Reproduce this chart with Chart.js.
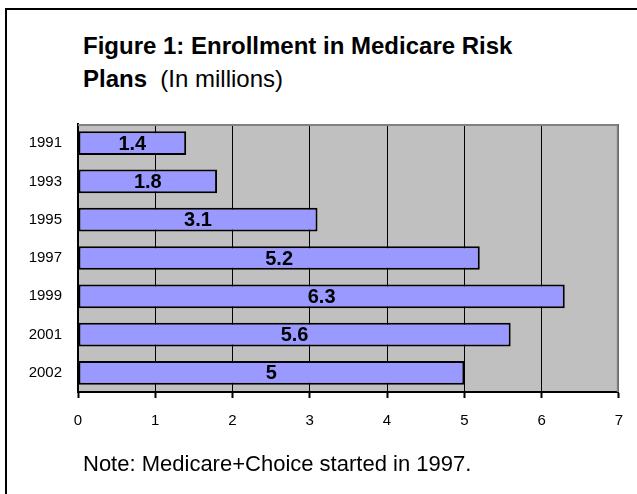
<!DOCTYPE html>
<html>
<head>
<meta charset="utf-8">
<script src="https://cdn.jsdelivr.net/npm/chart.js@4/dist/chart.umd.min.js"></script>
<style>
  html, body { margin: 0; padding: 0; background: #fff; }
  #wrap { position: relative; width: 637px; height: 494px; overflow: hidden; font-family: "Liberation Sans", Arial, sans-serif; }
  #frame { position: absolute; left: 5px; top: 8px; width: 660px; height: 520px; border: 2px solid #000; box-sizing: border-box; }
  #title { position: absolute; left: 83px; top: 29px; font-size: 24px; line-height: 33px; color: #000; white-space: nowrap; }
  #title b { font-weight: bold; }
  #note { position: absolute; left: 83px; top: 451px; font-size: 22px; line-height: 25px; color: #000; white-space: nowrap; }
  canvas { position: absolute; left: 0; top: 0; }
</style>
</head>
<body>
<div id="wrap">
  <div id="frame"></div>
  <div id="title"><b>Figure 1: Enrollment in Medicare Risk</b><br><b>Plans</b>&nbsp;&nbsp;(In millions)</div>
  <canvas id="chart" width="637" height="494"></canvas>
  <div id="note">Note: Medicare+Choice started in 1997.</div>
</div>
<script>
/* ============================================================
   DATOS
============================================================ */
const years = ["1991", "1993", "1995", "1997", "1999", "2001", "2002"];
const enrollment = [1.4, 1.8, 3.1, 5.2, 6.3, 5.6, 5];
const xTicks = [0, 1, 2, 3, 4, 5, 6, 7];

/* fondo gris del area de trazado */
const plotBg = {
    id: "plotBg",
    beforeDraw(chart) {
        const a = chart.chartArea;
        const ctx = chart.ctx;
        ctx.save();
        ctx.fillStyle = "#C0C0C0";
        ctx.fillRect(a.left, a.top, a.right - a.left, a.bottom - a.top);
        ctx.restore();
    },
    afterDraw(chart) {
        const a = chart.chartArea;
        const ctx = chart.ctx;
        ctx.save();
        ctx.strokeStyle = "#808080";
        ctx.lineWidth = 2;
        ctx.beginPath();
        ctx.moveTo(a.left, a.top + 1);
        ctx.lineTo(a.right - 1, a.top + 1);
        ctx.lineTo(a.right - 1, a.bottom);
        ctx.stroke();
        ctx.restore();
    }
};

/* etiquetas de valor en el centro de cada barra */
const barLabels = {
    id: "barLabels",
    afterDatasetsDraw(chart) {
        const ctx = chart.ctx;
        const meta = chart.getDatasetMeta(0);
        ctx.save();
        ctx.font = "bold 20px 'Liberation Sans', Arial, sans-serif";
        ctx.fillStyle = "#000";
        ctx.textAlign = "center";
        ctx.textBaseline = "middle";
        meta.data.forEach((bar, i) => {
            const cx = (bar.base + bar.x) / 2;
            ctx.fillText(String(enrollment[i]), cx, bar.y + 1);
        });
        ctx.restore();
    }
};

new Chart(document.getElementById("chart"), {
    type: "bar",
    data: {
        labels: years,
        datasets: [{
            data: enrollment,
            backgroundColor: "#9999FF",
            borderColor: "#000",
            borderWidth: 2,
            borderSkipped: false,
            categoryPercentage: 1,
            barPercentage: 0.62
        }]
    },
    options: {
        indexAxis: "y",
        responsive: false,
        animation: false,
        layout: { padding: { left: 0, top: 124, right: 18, bottom: 0 } },
        plugins: { legend: { display: false }, tooltip: { enabled: false } },
        scales: {
            x: {
                min: 0,
                max: 7,
                afterBuildTicks(scale) { scale.ticks = xTicks.map(v => ({ value: v })); },
                afterFit(scale) { scale.height = 102; },
                grid: {
                    color: "#000",
                    lineWidth: 1,
                    drawTicks: true,
                    tickLength: 6,
                    tickColor: "#000",
                    tickWidth: 2
                },
                border: { color: "#000", width: 2 },
                ticks: {
                    color: "#000",
                    padding: 14,
                    font: { family: "'Liberation Sans', Arial, sans-serif", size: 15 }
                }
            },
            y: {
                afterFit(scale) { scale.width = 78; },
                grid: { display: false, drawTicks: false },
                border: { color: "#000", width: 2 },
                ticks: {
                    color: "#000",
                    padding: 16,
                    font: { family: "'Liberation Sans', Arial, sans-serif", size: 15 }
                }
            }
        }
    },
    plugins: [plotBg, barLabels]
});
</script>
</body>
</html>
